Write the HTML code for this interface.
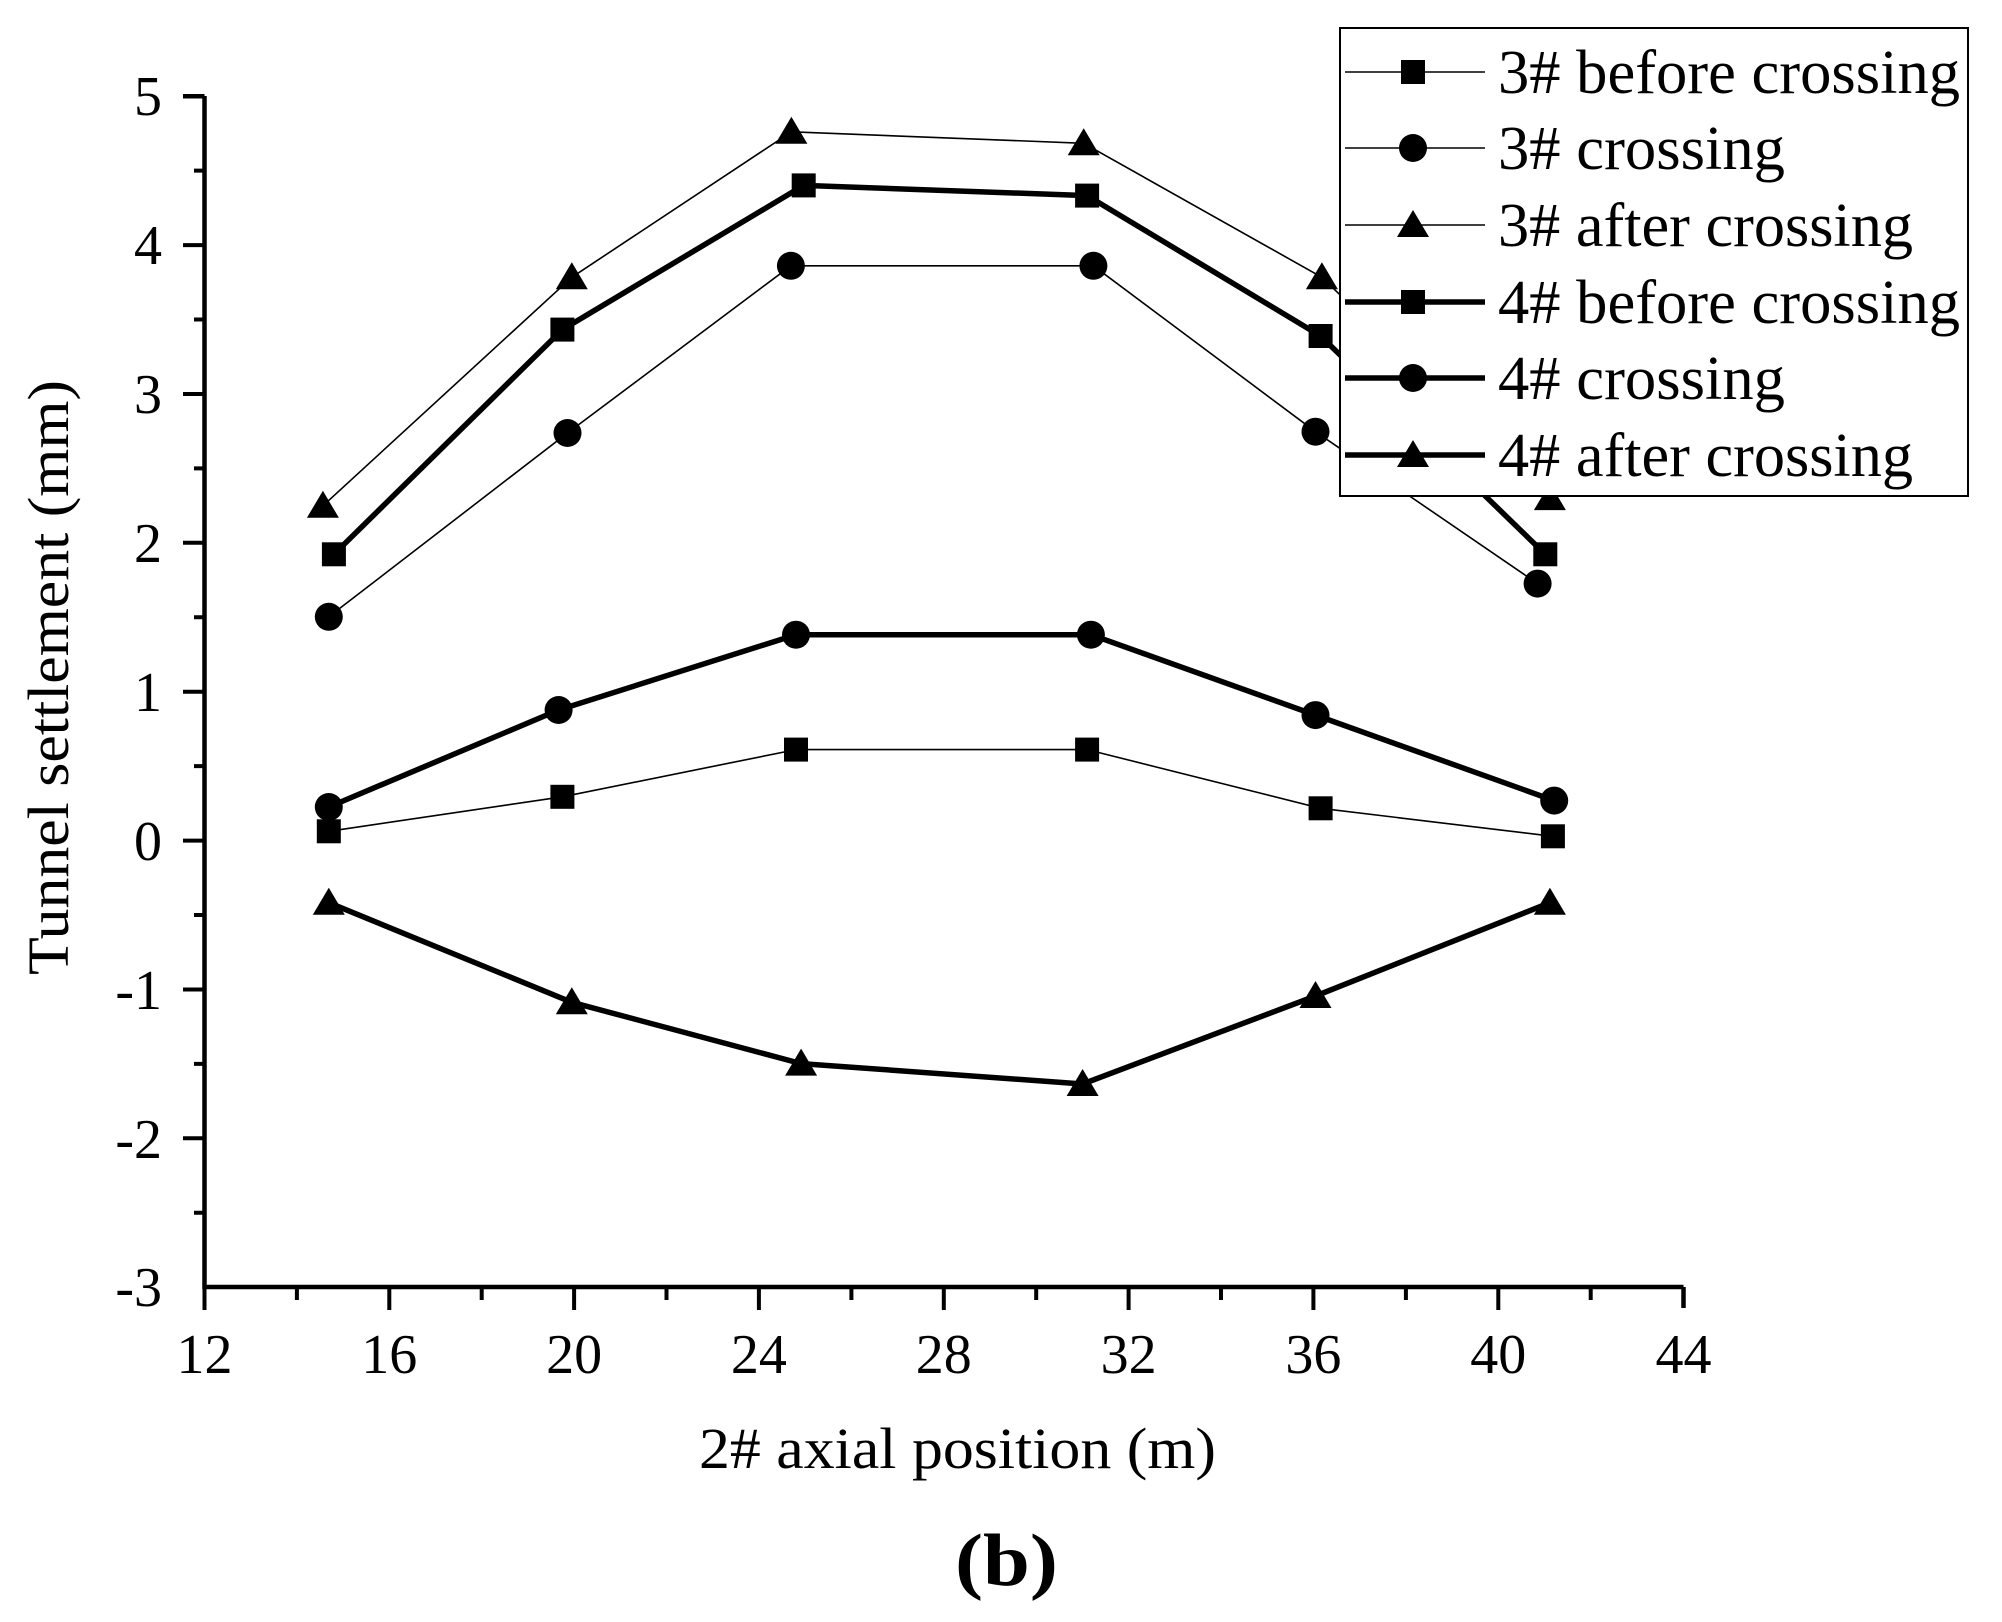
<!DOCTYPE html>
<html><head><meta charset="utf-8"><style>html,body{margin:0;padding:0;background:#fff}svg{display:block}</style></head>
<body>
<svg width="2002" height="1622" viewBox="0 0 2002 1622" xmlns="http://www.w3.org/2000/svg" font-family="Liberation Serif, serif">
<defs>
<rect id="sq" x="-12" y="-12" width="24" height="24" fill="#000"/>
<circle id="ci" r="14" fill="#000"/>
<polygon id="tr" points="0,-15 16,12 -16,12" fill="#000"/>
</defs>
<g stroke="#000" stroke-width="4.5" fill="none">
<path d="M204.5,96 V1287 H1683.5"/>
<path d="M183,96.2 H204.5"/>
<path d="M1683.5,1287 V1308"/>
</g>
<g stroke="#000" stroke-width="4">
<path d="M183,96.2H204 M183,245.1H204 M183,394H204 M183,542.8H204 M183,691.7H204 M183,840.6H204 M183,989.5H204 M183,1138.3H204"/>
<path d="M194,170.6H204 M194,319.5H204 M194,468.4H204 M194,617.3H204 M194,766.1H204 M194,915H204 M194,1063.9H204 M194,1212.8H204"/>
<path d="M204.5,1287V1310 M389.3,1287V1310 M574.1,1287V1310 M758.9,1287V1310 M943.8,1287V1310 M1128.6,1287V1310 M1313.4,1287V1310 M1498.3,1287V1310"/>
<path d="M296.9,1287V1300 M481.7,1287V1300 M666.5,1287V1300 M851.4,1287V1300 M1036.2,1287V1300 M1221,1287V1300 M1405.9,1287V1300 M1590.7,1287V1300"/>
</g>
<g font-size="56" text-anchor="end">
<text x="162" y="115">5</text>
<text x="162" y="264">4</text>
<text x="162" y="413">3</text>
<text x="162" y="562">2</text>
<text x="162" y="711">1</text>
<text x="162" y="860">0</text>
<text x="162" y="1009">-1</text>
<text x="162" y="1158">-2</text>
<text x="162" y="1306">-3</text>
</g>
<g font-size="56" text-anchor="middle">
<text x="204.5" y="1373">12</text>
<text x="389.3" y="1373">16</text>
<text x="574.1" y="1373">20</text>
<text x="758.9" y="1373">24</text>
<text x="943.8" y="1373">28</text>
<text x="1128.6" y="1373">32</text>
<text x="1313.4" y="1373">36</text>
<text x="1498.3" y="1373">40</text>
<text x="1683.5" y="1373">44</text>
</g>
<text x="699" y="1468" font-size="58" textLength="517" lengthAdjust="spacingAndGlyphs">2# axial position (m)</text>
<text transform="translate(68,975) rotate(-90)" font-size="58" textLength="595" lengthAdjust="spacingAndGlyphs">Tunnel settlement (mm)</text>
<text x="955" y="1585" font-size="74" font-weight="bold" textLength="103" lengthAdjust="spacingAndGlyphs">(b)</text>

<g fill="none" stroke="#000" stroke-linejoin="round">
<polyline stroke-width="1.6" points="322.9,505.8 571.8,277.3 791.4,131.8 1083.7,143.3 1321.9,277.3 1549.9,498.1"/>
<polyline stroke-width="5.5" points="333.9,554.3 562.4,329.6 803.7,185.4 1087.1,195.6 1320.6,336 1545.3,554.3"/>
<polyline stroke-width="1.6" points="328.8,616.8 567.5,433 790.9,265.8 1093.4,265.8 1315.5,431.7 1537.6,583.6"/>
<polyline stroke-width="5.5" points="328.8,807 558.6,710 796,634.7 1090.9,634.7 1315.5,715.1 1554.2,800.6"/>
<polyline stroke-width="1.6" points="328.8,831.3 562.4,796.8 796,749.6 1087.1,749.6 1320.6,808.3 1552.9,836.3"/>
<polyline stroke-width="5.5" points="328.8,902.7 571.8,1002.3 801.1,1063.6 1082.6,1084 1315.5,996 1549.9,902.7"/>
</g>
<g>
<use href="#tr" x="322.9" y="505.8"/><use href="#tr" x="571.8" y="277.3"/><use href="#tr" x="791.4" y="131.8"/><use href="#tr" x="1083.7" y="143.3"/><use href="#tr" x="1321.9" y="277.3"/><use href="#tr" x="1549.9" y="498.1"/>
<use href="#sq" x="333.9" y="554.3"/><use href="#sq" x="562.4" y="329.6"/><use href="#sq" x="803.7" y="185.4"/><use href="#sq" x="1087.1" y="195.6"/><use href="#sq" x="1320.6" y="336"/><use href="#sq" x="1545.3" y="554.3"/>
<use href="#ci" x="328.8" y="616.8"/><use href="#ci" x="567.5" y="433"/><use href="#ci" x="790.9" y="265.8"/><use href="#ci" x="1093.4" y="265.8"/><use href="#ci" x="1315.5" y="431.7"/><use href="#ci" x="1537.6" y="583.6"/>
<use href="#ci" x="328.8" y="807"/><use href="#ci" x="558.6" y="710"/><use href="#ci" x="796" y="634.7"/><use href="#ci" x="1090.9" y="634.7"/><use href="#ci" x="1315.5" y="715.1"/><use href="#ci" x="1554.2" y="800.6"/>
<use href="#sq" x="328.8" y="831.3"/><use href="#sq" x="562.4" y="796.8"/><use href="#sq" x="796" y="749.6"/><use href="#sq" x="1087.1" y="749.6"/><use href="#sq" x="1320.6" y="808.3"/><use href="#sq" x="1552.9" y="836.3"/>
<use href="#tr" x="328.8" y="902.7"/><use href="#tr" x="571.8" y="1002.3"/><use href="#tr" x="801.1" y="1063.6"/><use href="#tr" x="1082.6" y="1084"/><use href="#tr" x="1315.5" y="996"/><use href="#tr" x="1549.9" y="902.7"/>
</g>

<rect x="1340" y="28" width="628" height="468" fill="#fff" stroke="#000" stroke-width="2"/>
<g stroke="#000">
<path stroke-width="1.6" d="M1345,72H1485 M1345,148H1485 M1345,225H1485"/>
<path stroke-width="5.5" d="M1345,302H1485 M1345,378H1485 M1345,455H1485"/>
</g>
<use href="#sq" x="1413" y="72"/><use href="#ci" x="1413" y="148"/><use href="#tr" x="1413" y="225"/>
<use href="#sq" x="1413" y="302"/><use href="#ci" x="1413" y="378"/><use href="#tr" x="1413" y="455"/>
<g font-size="62">
<text x="1498" y="93" textLength="462" lengthAdjust="spacingAndGlyphs">3# before crossing</text>
<text x="1498" y="169" textLength="287" lengthAdjust="spacingAndGlyphs">3# crossing</text>
<text x="1498" y="246" textLength="415" lengthAdjust="spacingAndGlyphs">3# after crossing</text>
<text x="1498" y="323" textLength="462" lengthAdjust="spacingAndGlyphs">4# before crossing</text>
<text x="1498" y="399" textLength="287" lengthAdjust="spacingAndGlyphs">4# crossing</text>
<text x="1498" y="476" textLength="415" lengthAdjust="spacingAndGlyphs">4# after crossing</text>
</g>
</svg>
</body></html>
